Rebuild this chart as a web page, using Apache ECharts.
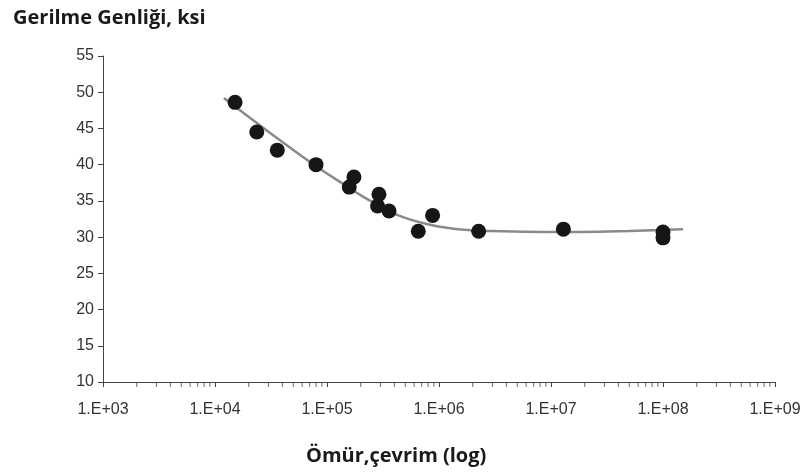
<!DOCTYPE html>
<html>
<head>
<meta charset="utf-8">
<script src="https://cdn.jsdelivr.net/npm/echarts@6/dist/echarts.min.js"></script>
<style>
  html, body { margin: 0; padding: 0; background: #fff; }
  #main { width: 810px; height: 472px; }
</style>
</head>
<body>
<div id="main"></div>
<script>
  // test points: cycles to failure, stress amplitude (ksi)
  var cycles = [1.51e4, 2.36e4, 3.6e4, 7.98e4, 1.74e5, 1.58e5, 2.91e5, 2.83e5, 3.58e5, 6.53e5, 8.77e5, 2.26e6, 1.29e7, 1.0e8, 1.0e8];
  var stress = [48.6, 44.5, 42.0, 40.0, 38.3, 36.9, 35.9, 34.3, 33.6, 30.8, 33.0, 30.8, 31.1, 30.7, 29.9];

  // fitted curve
  var fitCycles = [1.2e4, 3.55e4, 8.1e4, 1.51e5, 2.09e5, 4.17e5, 8.3e5, 1.66e6, 2.88e6, 1.26e7, 5e7, 1.51e8];
  var fitStress = [49.2, 43.7, 39.7, 37.0, 35.6, 33.1, 31.7, 31.0, 30.85, 30.7, 30.85, 31.1];

  // x axis decades (log10)
  var decades = [3, 4, 5, 6, 7, 8, 9];

  var lg = function (v) { return Math.log10(v); };
  var pts = cycles.map(function (c, i) { return [lg(c), stress[i]]; });
  var fit = fitCycles.map(function (c, i) { return [lg(c), fitStress[i]]; });

  // minor ticks at 2..9 of every decade
  var minor = [];
  for (var d = 0; d < decades.length - 1; d++) {
    for (var k = 2; k <= 9; k++) {
      minor.push([decades[d] + lg(k), 10]);
    }
  }

  var axisColor = '#444';
  var chart = echarts.init(document.getElementById('main'));
  chart.setOption({
    animation: false,
    title: [
      {
        text: 'Gerilme Genliği, ksi',
        left: 8, top: 3,
        textStyle: { fontFamily: 'Open Sans', fontWeight: 'bold', fontSize: 20, color: '#1a1a1a' }
      },
      {
        text: 'Ömür,çevrim (log)',
        left: 301, top: 441,
        textStyle: { fontFamily: 'Open Sans', fontWeight: 'bold', fontSize: 20, color: '#1a1a1a' }
      }
    ],
    grid: { left: 103, right: 35, top: 56, bottom: 90 },
    xAxis: {
      type: 'value',
      min: 3, max: 9, interval: 1,
      splitLine: { show: false },
      axisLine: { lineStyle: { color: axisColor, width: 1 } },
      axisTick: { length: 5, lineStyle: { color: axisColor } },
      axisLabel: {
        margin: 20,
        color: '#333',
        fontFamily: 'Liberation Sans',
        fontSize: 16,
        formatter: function (v) { return '1.E+' + (v < 10 ? '0' : '') + v; }
      }
    },
    yAxis: {
      type: 'value',
      min: 10, max: 55, interval: 5,
      splitLine: { show: false },
      axisLine: { show: true, lineStyle: { color: axisColor, width: 1 } },
      axisTick: { show: true, length: 5, lineStyle: { color: axisColor } },
      axisLabel: {
        margin: 9,
        color: '#333',
        fontFamily: 'Liberation Sans',
        fontSize: 16
      }
    },
    series: [
      {
        type: 'scatter',
        data: minor,
        symbol: 'rect',
        symbolSize: [1, 5],
        symbolOffset: [0, 2.5],
        itemStyle: { color: axisColor },
        silent: true,
        clip: false,
        z: 1
      },
      {
        type: 'line',
        data: fit,
        smooth: 0.3,
        showSymbol: false,
        lineStyle: { color: '#8a8a8a', width: 2.5 },
        z: 2
      },
      {
        type: 'scatter',
        data: pts,
        symbolSize: 15,
        itemStyle: { color: '#161616', opacity: 1 },
        z: 3
      }
    ]
  });
</script>
</body>
</html>
